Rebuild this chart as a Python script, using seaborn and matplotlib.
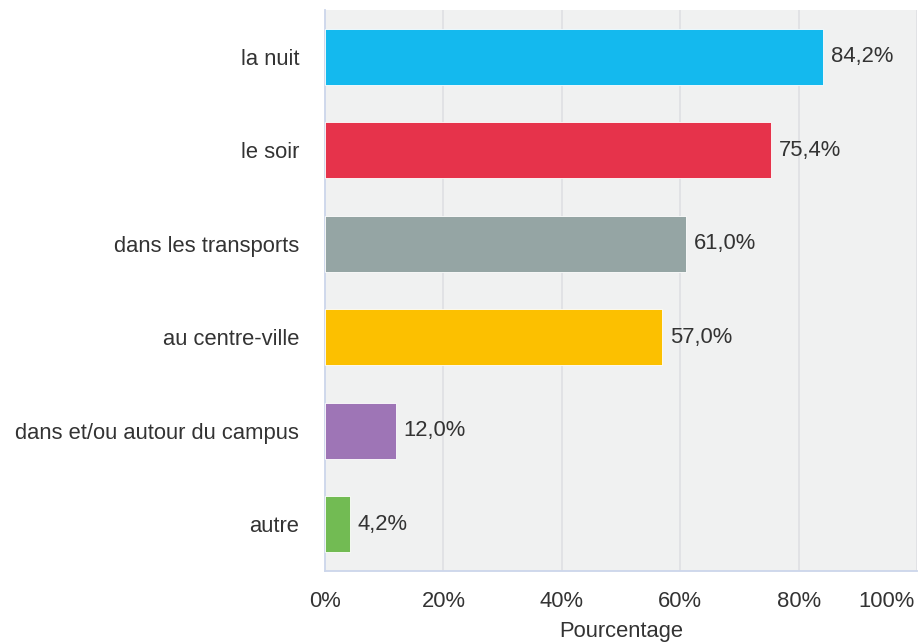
import matplotlib
matplotlib.use("Agg")
import matplotlib.pyplot as plt
import matplotlib.transforms as mtransforms
import seaborn as sns
import pandas as pd

categories = ["la nuit", "le soir", "dans les transports", "au centre-ville",
              "dans et/ou autour du campus", "autre"]
values = [84.2, 75.4, 61.0, 57.0, 12.0, 4.2]
colors = ["#14b9ee", "#e6334b", "#95a5a4", "#fcc000", "#9e75b6", "#72bb53"]
xticks = [0, 20, 40, 60, 80, 100]
xtick_labels = ["0%", "20%", "40%", "60%", "80%", "100%"]
value_labels = ["84,2%", "75,4%", "61,0%", "57,0%", "12,0%", "4,2%"]

df = pd.DataFrame({"cat": categories, "val": values})

sns.set_theme(style="white")
plt.rcParams["font.family"] = ["Liberation Sans", "DejaVu Sans"]

FS = 15.8
TXT = "#333333"

W, H = 919, 642
fig = plt.figure(figsize=(W / 100, H / 100), dpi=100)
left, right, top, bottom = 325, 917, 10, 571
ax = fig.add_axes([left / W, 1 - bottom / H, (right - left) / W, (bottom - top) / H])
ax.set_facecolor("#f0f1f1")

sns.barplot(data=df, y="cat", x="val", hue="cat", palette=colors, order=categories,
            hue_order=categories, orient="h", width=0.6, dodge=False, legend=False,
            saturation=1, ax=ax, zorder=3, edgecolor="#ffffff", linewidth=0.6)

ax.set_xlim(0, 100)
ax.set_ylim(len(categories) - 0.5, -0.5)

axis_col = "#ccd6eb"
grid_col = "#dfe0e3"
for x in xticks[1:]:
    ax.axvline(x, color=grid_col, lw=1.2, zorder=1)

for s in ["top", "right"]:
    ax.spines[s].set_visible(False)
for s in ["left", "bottom"]:
    ax.spines[s].set_color(axis_col)
    ax.spines[s].set_linewidth(1.3)

ax.set_xticks(xticks)
ax.set_xticklabels(xtick_labels, fontsize=FS, color=TXT)
ax.tick_params(axis="x", length=12.2, width=1.2, color=axis_col, pad=2, direction="out")

# keep the last tick label inside the figure
last = ax.get_xticklabels()[-1]
last.set_horizontalalignment("right")
last.set_transform(last.get_transform() +
                   mtransforms.ScaledTranslation(-2 / 100, 0, fig.dpi_scale_trans))

# category ticks sit on the band boundaries, labels centred on the bars
ax.set_yticks(range(len(categories)))
ax.set_yticklabels(categories, fontsize=FS, color=TXT)
ax.tick_params(axis="y", length=0, pad=18.5)
ax.set_yticks([i - 0.5 for i in range(len(categories) + 1)], minor=True)
ax.tick_params(axis="y", which="minor", length=12.2, width=1.3, color=axis_col)

ax.set_ylabel("")
ax.set_xlabel("Pourcentage", fontsize=FS, color=TXT, labelpad=6.5)

for i, (v, lab) in enumerate(zip(values, value_labels)):
    ax.text(v + 1.3, i, lab, va="center", ha="left", fontsize=FS, color=TXT, zorder=4)

fig.savefig("out.png", dpi=100)
